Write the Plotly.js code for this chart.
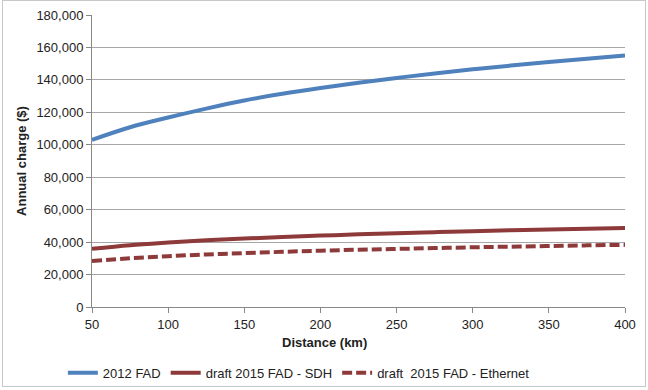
<!DOCTYPE html>
<html>
<head>
<meta charset="utf-8">
<script src="https://cdn.plot.ly/plotly-3.0.1.min.js"></script>
<style>
  html, body { margin: 0; padding: 0; background: #fff; }
  #wrap { position: relative; width: 648px; height: 390px; }
  #chart { width: 648px; height: 390px; }
  #frame { position: absolute; left: 2px; top: 0px; width: 642px; height: 385px; border: 1px solid #c8c8c8; pointer-events: none; }
</style>
</head>
<body>
<div id="wrap">
  <div id="chart"></div>
  <div id="frame"></div>
</div>
<script>
const distance = [50, 75, 100, 125, 150, 175, 200, 225, 250, 275, 300, 325, 350, 375, 400];
const fad2012 = [103000, 110800, 116800, 122300, 127300, 131400, 135000, 138300, 141200, 144000, 146500, 148800, 151000, 153100, 155000];
const sdh2015 = [35900, 38100, 39700, 41100, 42200, 43200, 44000, 44800, 45500, 46100, 46700, 47300, 47800, 48300, 48700];
const eth2015 = [28300, 30000, 31300, 32400, 33200, 34000, 34700, 35300, 35800, 36300, 36800, 37200, 37600, 38000, 38300];
const yTicks = [0, 20000, 40000, 60000, 80000, 100000, 120000, 140000, 160000, 180000];
const yTickText = ["0", "20,000", "40,000", "60,000", "80,000", "100,000", "120,000", "140,000", "160,000", "180,000"];
const xTicks = [50, 100, 150, 200, 250, 300, 350, 400];

const font = "Liberation Sans, Arial, sans-serif";

const traces = [
  { x: distance, y: fad2012, name: "2012 FAD", mode: "lines", line: { color: "#4F81BD", width: 4, shape: "spline" } },
  { x: distance, y: sdh2015, name: "draft 2015 FAD - SDH", mode: "lines", line: { color: "#8E3A3A", width: 4, shape: "spline" } },
  { x: distance, y: eth2015, name: "draft  2015 FAD - Ethernet", mode: "lines", line: { color: "#8E3A3A", width: 4, dash: "10px,4px", shape: "spline" } }
];

const layout = {
  width: 648, height: 390,
  margin: { l: 92, r: 23, t: 15, b: 83, autoexpand: false },
  paper_bgcolor: "#fff", plot_bgcolor: "#fff",
  font: { family: font, size: 13, color: "#222" },
  showlegend: true,
  legend: { orientation: "h", xref: "container", x: 0.097, xanchor: "left", yref: "container", y: 0.044, yanchor: "middle", font: { family: font, size: 13, color: "#222" }, bgcolor: "rgba(0,0,0,0)" },
  xaxis: {
    range: [50, 400], tickvals: xTicks, ticktext: xTicks.map(String), automargin: false,
    showgrid: false, zeroline: false,
    showline: true, linecolor: "#888", linewidth: 1,
    ticks: "outside", ticklen: 5, tickcolor: "#888",
    tickfont: { family: font, size: 13, color: "#222" }
  },
  yaxis: {
    range: [0, 180000], tickvals: yTicks, ticktext: yTickText, automargin: false,
    showgrid: true, gridcolor: "#a6a6a6", gridwidth: 1, zeroline: false,
    showline: true, linecolor: "#888", linewidth: 1,
    ticks: "outside", ticklen: 5, tickcolor: "#888",
    tickfont: { family: font, size: 13, color: "#222" },
    title: { text: "<b>Annual charge ($)</b>", font: { family: font, size: 13, color: "#222" }, standoff: 6 }
  },
  annotations: [
    { text: "<b>Distance (km)</b>", xref: "paper", yref: "paper", x: 0.437, y: -0.123, xanchor: "center", yanchor: "middle", showarrow: false, font: { family: font, size: 13, color: "#222" } }
  ]
};

Plotly.newPlot("chart", traces, layout, { displayModeBar: false, staticPlot: true });
</script>
</body>
</html>
